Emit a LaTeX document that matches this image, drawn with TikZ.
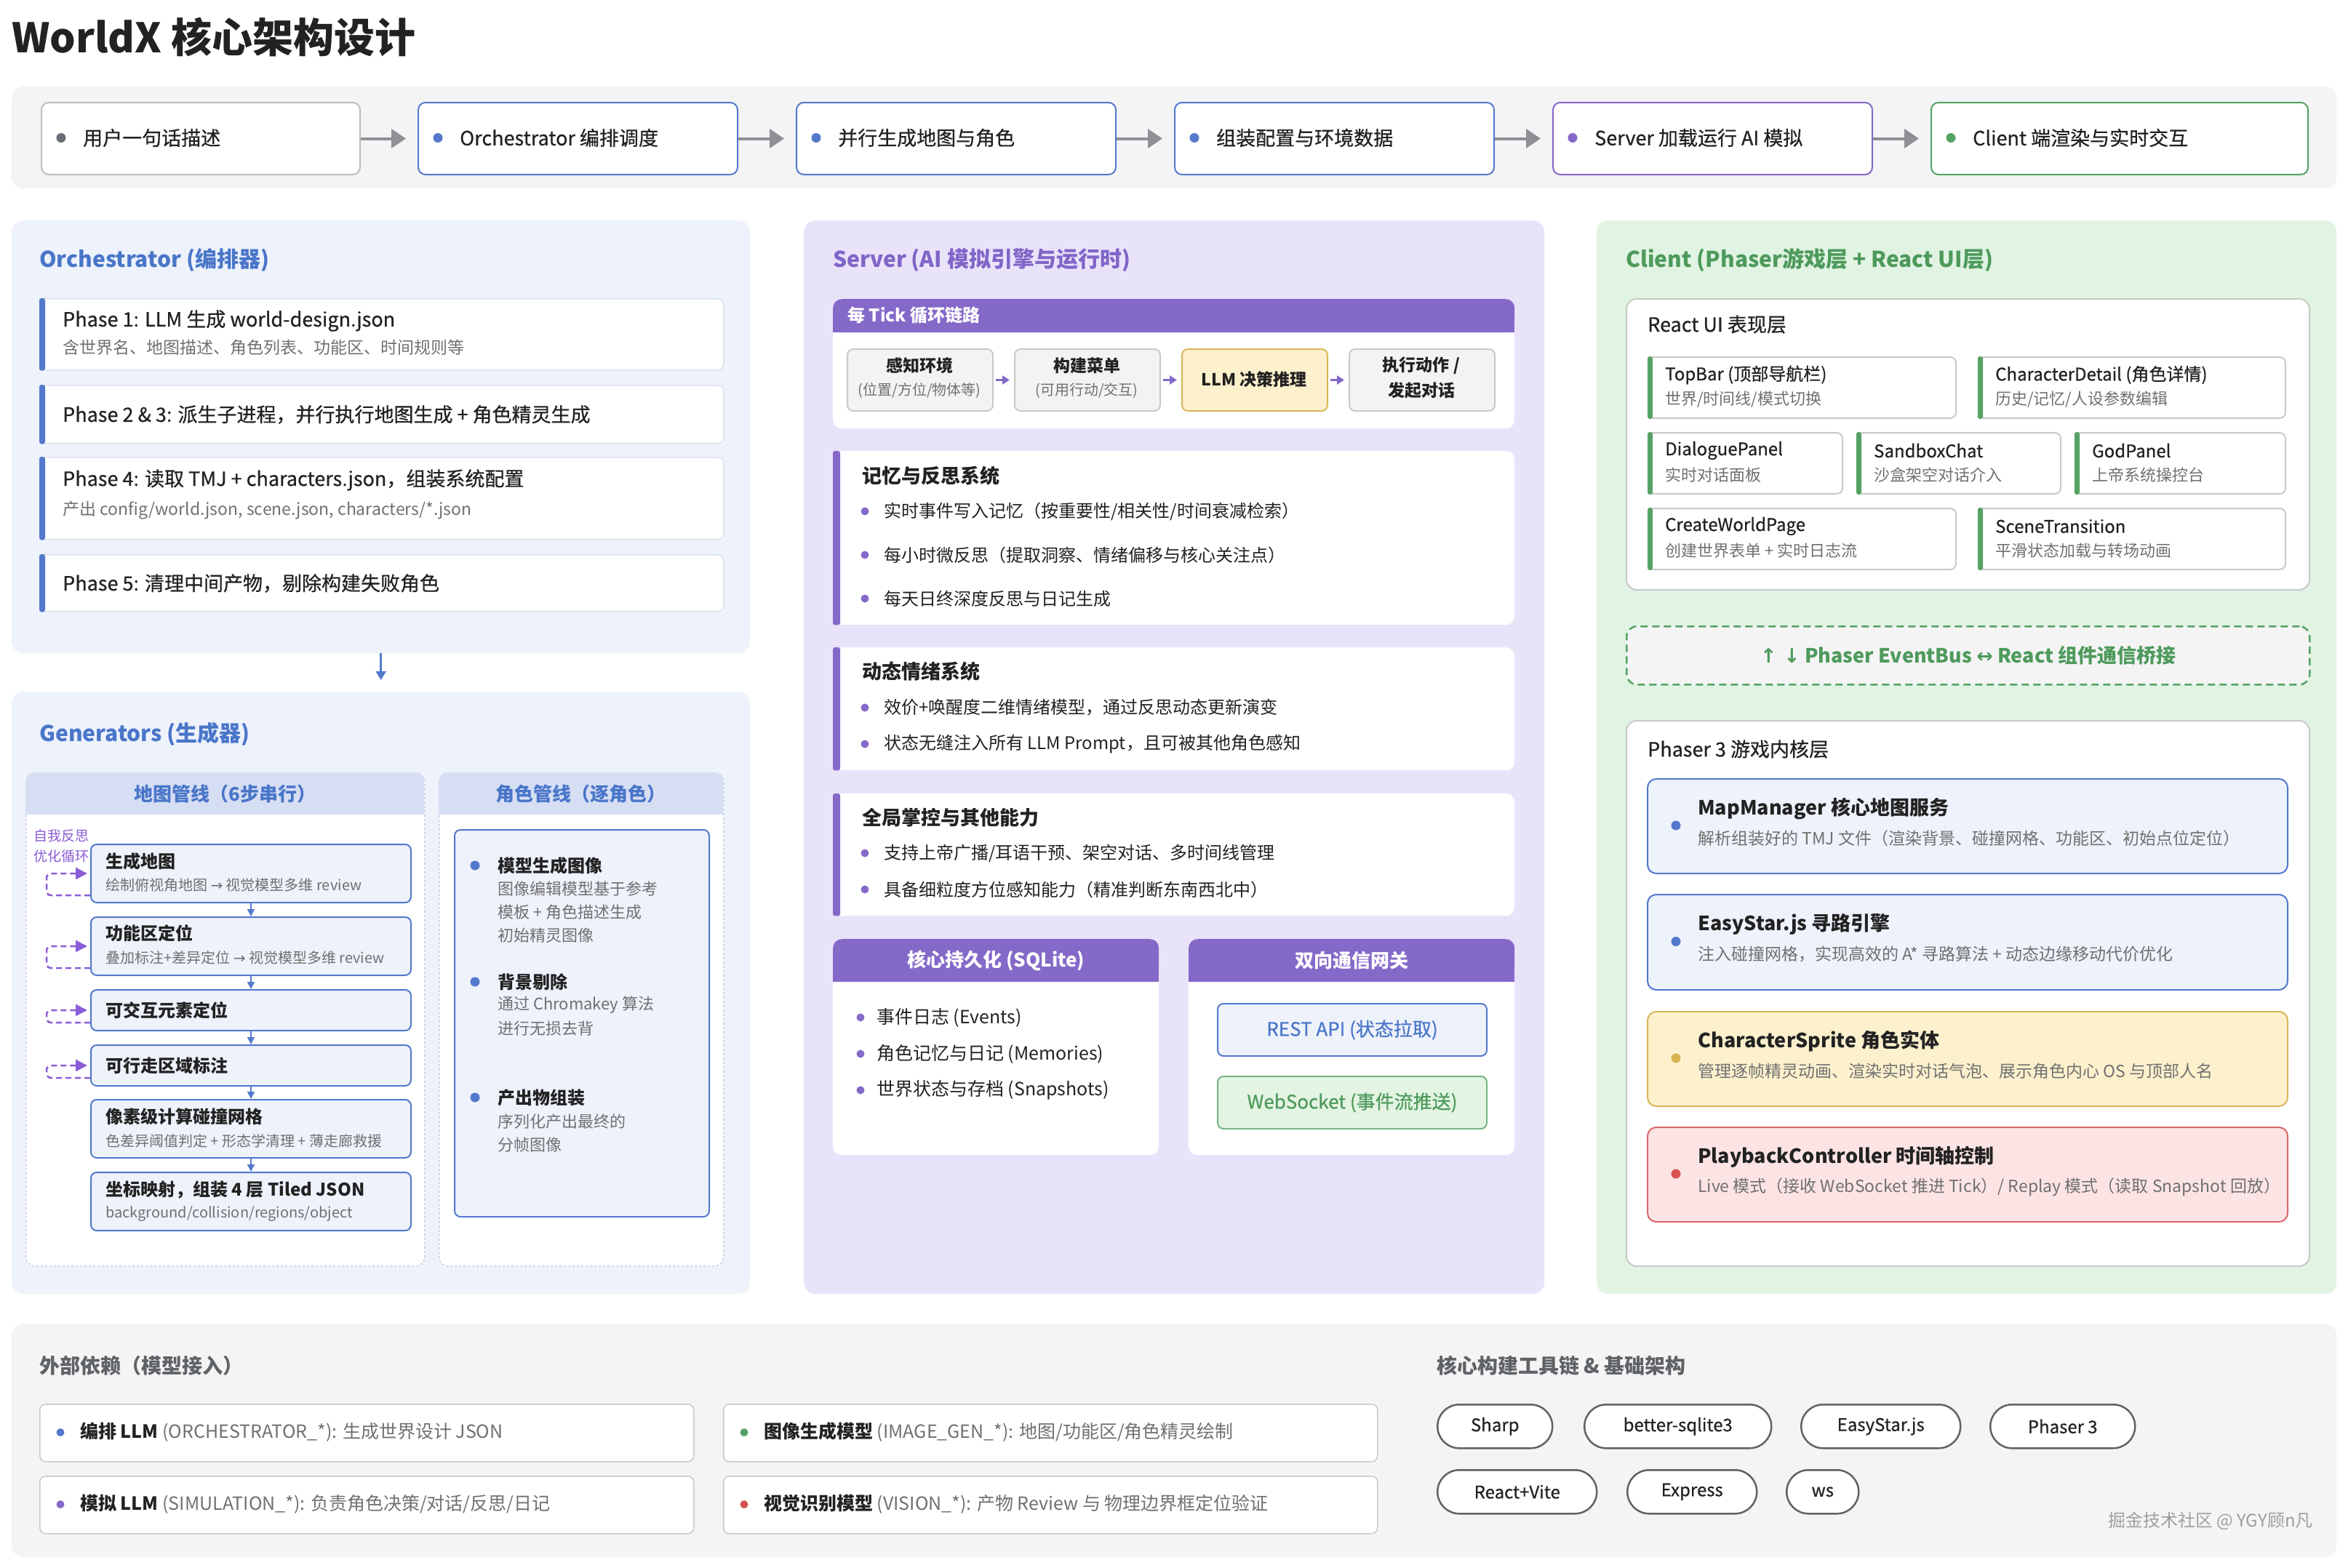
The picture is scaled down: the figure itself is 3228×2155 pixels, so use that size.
\documentclass[tikz,border=0pt]{standalone}
\usepackage{fontspec}
\setmainfont{Noto Sans CJK SC}
\newfontfamily\medfont{Noto Sans CJK SC}[FakeBold=0.6]
\newfontfamily\arrowfont{DejaVu Sans}
\usetikzlibrary{arrows.meta}
\newcommand\fsz[1]{\fontsize{#1}{#1}\selectfont}
\newcommand\arr[1]{{\arrowfont #1}}
\definecolor{ink}{HTML}{222222}
\definecolor{subgray}{HTML}{707070}
\definecolor{headgray}{HTML}{5F6266}
\definecolor{bandgray}{HTML}{F4F4F5}
\definecolor{lightgray}{HTML}{BDBDBD}
\definecolor{darkdot}{HTML}{6B6E76}
\definecolor{arrowgray}{HTML}{8E9096}
\definecolor{blueT}{HTML}{4A76C9}
\definecolor{blueL}{HTML}{5479CC}
\definecolor{blueBg}{HTML}{EEF2FB}
\definecolor{blueHd}{HTML}{D6DEF4}
\definecolor{blueDash}{HTML}{C5CFE6}
\definecolor{purpleT}{HTML}{8165C7}
\definecolor{purpleL}{HTML}{8569C9}
\definecolor{purpleBg}{HTML}{E9E3FA}
\definecolor{loopC}{HTML}{8A5CD6}
\definecolor{greenT}{HTML}{4E9A5C}
\definecolor{greenL}{HTML}{56A264}
\definecolor{greenBg}{HTML}{E1F4E4}
\definecolor{greenBox}{HTML}{E3F4E3}
\definecolor{cardline}{HTML}{DCE1EC}
\definecolor{grayline}{HTML}{C9C9C9}
\definecolor{pillline}{HTML}{626262}
\definecolor{tickgray}{HTML}{F3F3F3}
\definecolor{yellowBg}{HTML}{FDF1CD}
\definecolor{yellowL}{HTML}{D8B65A}
\definecolor{yellowDot}{HTML}{D7B552}
\definecolor{pinkBg}{HTML}{FDE4E4}
\definecolor{redL}{HTML}{D9686B}
\definecolor{redDot}{HTML}{D65352}
\tikzset{wh/.style 2 args={minimum width=#1pt, minimum height=#2pt}}
\tikzstyle{panel}=[rounded corners=16pt, inner sep=0, anchor=north west]
\tikzstyle{flowbox}=[draw, fill=white, rounded corners=10pt, line width=2pt, inner sep=0, anchor=north west]
\tikzstyle{card}=[draw=cardline, fill=white, rounded corners=8pt, line width=1.5pt, inner sep=0, anchor=north west]
\tikzstyle{whitebox}=[fill=white, rounded corners=12pt, inner sep=0, anchor=north west]
\tikzstyle{purplehd}=[fill=purpleL, rounded corners=12pt, inner sep=0, anchor=north west, text=white, font=\fsz{26}\bfseries]
\tikzstyle{tickbox}=[draw, line width=2pt, rounded corners=8pt, inner sep=0, anchor=north west]
\tikzstyle{col}=[draw=blueDash, dashed, fill=white, line width=1.5pt, rounded corners=12pt, inner sep=0, anchor=north west]
\tikzstyle{colhd}=[fill=blueHd, rounded corners=12pt, inner sep=0, anchor=north west, text=blueT, font=\fsz{26}\bfseries]
\tikzstyle{mapstep}=[draw=blueL, fill=blueBg, line width=2pt, rounded corners=8pt, inner sep=0, anchor=north west]
\tikzstyle{graybox}=[draw=grayline, fill=white, line width=2pt, rounded corners=14pt, inner sep=0, anchor=north west]
\tikzstyle{uicard}=[draw=grayline, fill=white, line width=2pt, rounded corners=8pt, inner sep=0, anchor=north west]
\tikzstyle{svc}=[line width=2pt, rounded corners=12pt, inner sep=0, anchor=north west]
\tikzstyle{busbox}=[draw=greenL, dash pattern=on 10pt off 6pt, fill=bandgray, line width=2.5pt, rounded corners=14pt, inner sep=0, anchor=north west, text=greenT, font=\fsz{27}\bfseries]
\tikzstyle{gatebox}=[line width=2pt, rounded corners=8pt, inner sep=0, font=\fsz{26}\medfont]
\tikzstyle{depcard}=[draw=grayline, fill=white, line width=1.5pt, rounded corners=8pt, inner sep=0, anchor=north west]
\tikzstyle{pill}=[draw=pillline, fill=white, line width=2.5pt, rounded corners=30pt, inner sep=0, anchor=north west, text=ink, font=\fsz{24}\medfont]
\tikzstyle{dot}=[circle, inner sep=0, minimum size=13pt]
\tikzstyle{sdot}=[circle, inner sep=0, minimum size=11pt]
\tikzstyle{lbl}=[anchor=west, inner sep=0, text=ink]
\tikzstyle{sub}=[anchor=west, inner sep=0, text=subgray]
\tikzstyle{ctr}=[anchor=center, inner sep=0, text=ink]
\tikzstyle{flowarrow}=[draw=arrowgray, line width=4pt, -{Triangle[length=20pt,width=26pt]}, shorten >=16pt]
\tikzstyle{orcharrow}=[draw=blueL, line width=2.5pt, -{Triangle[length=12pt,width=14pt]}, shorten >=16pt]
\tikzstyle{steparrow}=[draw=blueL, line width=2pt, -{Triangle[length=10pt,width=10pt]}]
\tikzstyle{tickarrow}=[draw=purpleL, line width=2.5pt, -{Triangle[length=10pt,width=12pt]}, shorten <=3pt, shorten >=6pt]
\tikzstyle{loopline}=[draw=loopC, line width=2.5pt, dash pattern=on 8pt off 5pt, rounded corners=6pt, -{Triangle[length=16pt,width=16pt]}]

\begin{document}
\begin{tikzpicture}[x=1pt, y=-1pt]
\useasboundingbox (0,0) rectangle (3228,2155);
\fill[white] (0,0) rectangle (3228,2155);
\node at (16,51)[lbl, font=\fsz{56}\bfseries](title){WorldX 核心架构设计};

\node at (16,119)[panel, fill=bandgray, wh={3196}{140}](flow){};
\foreach \i/\x/\w/\c/\d/\t in {1/56/438/lightgray/darkdot/用户一句话描述,
  2/574/439/blueL/blueL/Orchestrator 编排调度, 3/1094/439/blueL/blueL/并行生成地图与角色,
  4/1614/439/blueL/blueL/组装配置与环境数据, 5/2134/439/purpleL/purpleL/Server 加载运行 AI 模拟,
  6/2654/518/greenL/greenL/Client 端渲染与实时交互}{
\node at (\x,140)[flowbox, draw=\c, wh={\w}{99}](f\i){};
\node at (\x+28,189.5)[dot, fill=\d](fd\i){};
\node at (\x+58,189.5)[lbl, font=\fsz{27}\medfont](ft\i){\t};
}
\foreach \i/\j in {1/2,2/3,3/4,4/5,5/6} {\draw[flowarrow] (f\i.east) -- (f\j.west);}

\node at (16,303)[panel, fill=blueBg, wh={1015}{595}](orch){};
\node at (54,358)[lbl, text=blueT, font=\fsz{30}\bfseries](orchT){Orchestrator (编排器)};
\foreach \i/\y/\h in {1/410/98, 23/529/80, 4/628/113, 5/762/78}{
\node at (54,\y)[card, wh={940}{\h}](ph\i){};
\fill[blueL, rounded corners=3pt] (ph\i.north west) rectangle ([xshift=8pt]ph\i.south west);
}
\node at (86,441)[lbl, font=\fsz{27}\medfont](ph1a){Phase 1: LLM 生成 world-design.json};
\node at (86,478)[sub, font=\fsz{23}](ph1b){含世界名、地图描述、角色列表、功能区、时间规则等};
\node at (86,570)[lbl, font=\fsz{27}\medfont](ph23a){Phase 2 \& 3: 派生子进程，并行执行地图生成 + 角色精灵生成};
\node at (86,660)[lbl, font=\fsz{27}\medfont](ph4a){Phase 4: 读取 TMJ + characters.json，组装系统配置};
\node at (86,702)[sub, font=\fsz{23}](ph4b){产出 config/world.json, scene.json, characters/*.json};
\node at (86,802)[lbl, font=\fsz{27}\medfont](ph5a){Phase 5: 清理中间产物，剔除构建失败角色};

\node at (16,951)[panel, fill=blueBg, wh={1015}{828}](gen){};
\draw[orcharrow] (orch.south) -- (gen.north);
\node at (54,1009)[lbl, text=blueT, font=\fsz{30}\bfseries](genT){Generators (生成器)};
\node at (35,1062)[col, wh={548}{678}](mapcol){};
\node at (603,1062)[col, wh={391}{678}](chrcol){};
\node at (35,1062)[colhd, wh={548}{58}](maphd){地图管线（6步串行）};
\node at (603,1062)[colhd, wh={391}{58}](chrhd){角色管线（逐角色）};
\fill[blueHd] ([yshift=12pt]maphd.south west) rectangle (maphd.south east);
\fill[blueHd] ([yshift=12pt]chrhd.south west) rectangle (chrhd.south east);

\node at (84,1149)[ctr, text=loopC, font=\fsz{19}](selfa){自我反思};
\node at (84,1177)[ctr, text=loopC, font=\fsz{19}](selfb){优化循环};
\foreach \i/\y/\h in {1/1160/80, 2/1260/80, 3/1360/56, 4/1436/56, 5/1511/80, 6/1611/80}
{\node at (124,\y)[mapstep, wh={440}{\h}](s\i){};}
\foreach \i/\j in {1/2,2/3,3/4,4/5,5/6} {\draw[steparrow] (s\i.south) -- (s\j.north);}
\foreach \i/\d in {1/30, 2/30, 3/17, 4/17}
{\draw[loopline] (s\i.west) ++(0,\d) -- ++(-60,0) -- ++(0,-\d) -- ([xshift=-4pt]s\i.west);}
\node at (145,1184)[lbl, font=\fsz{24}\bfseries](s1a){生成地图};
\node at (145,1217)[sub, font=\fsz{20}](s1b){绘制俯视角地图 \arr{→} 视觉模型多维 review};
\node at (145,1283)[lbl, font=\fsz{24}\bfseries](s2a){功能区定位};
\node at (145,1317)[sub, font=\fsz{20}](s2b){叠加标注+差异定位 \arr{→} 视觉模型多维 review};
\node at (145,1389)[lbl, font=\fsz{24}\bfseries](s3a){可交互元素定位};
\node at (145,1465)[lbl, font=\fsz{24}\bfseries](s4a){可行走区域标注};
\node at (145,1535)[lbl, font=\fsz{24}\bfseries](s5a){像素级计算碰撞网格};
\node at (145,1569)[sub, font=\fsz{20}](s5b){色差异阈值判定 + 形态学清理 + 薄走廊救援};
\node at (145,1636)[lbl, font=\fsz{24}\bfseries](s6a){坐标映射，组装 4 层 Tiled JSON};
\node at (145,1669)[sub, font=\fsz{20}](s6b){background/collision/regions/object};

\node at (624,1140)[mapstep, wh={350}{532}](chr){};
\foreach \i/\y in {1/1190, 2/1350, 3/1509} {\node at (653,\y)[dot, fill=blueL](cd\i){};}
\node at (684,1190)[lbl, font=\fsz{24}\bfseries](c1a){模型生成图像};
\node at (684,1222)[sub, font=\fsz{22}](c1b){图像编辑模型基于参考};
\node at (684,1254)[sub, font=\fsz{22}](c1c){模板 + 角色描述生成};
\node at (684,1286)[sub, font=\fsz{22}](c1d){初始精灵图像};
\node at (684,1350)[lbl, font=\fsz{24}\bfseries](c2a){背景剔除};
\node at (684,1382)[sub, font=\fsz{22}](c2b){通过 Chromakey 算法};
\node at (684,1414)[sub, font=\fsz{22}](c2c){进行无损去背};
\node at (684,1509)[lbl, font=\fsz{24}\bfseries](c3a){产出物组装};
\node at (684,1542)[sub, font=\fsz{22}](c3b){序列化产出最终的};
\node at (684,1574)[sub, font=\fsz{22}](c3c){分帧图像};

\node at (1105,303)[panel, fill=purpleBg, wh={1018}{1476}](srv){};
\node at (1145,358)[lbl, text=purpleT, font=\fsz{30}\bfseries](srvT){Server (AI 模拟引擎与运行时)};
\node at (1145,411)[whitebox, wh={937}{178}](tick){};
\node at (1145,411)[purplehd, wh={937}{46}](tickhd){};
\fill[purpleL] ([yshift=12pt]tickhd.south west) rectangle (tickhd.south east);
\node at (1165,434)[lbl, text=white, font=\fsz{24}\bfseries](tickT){每 Tick 循环链路};
\foreach \i/\x/\f/\c in {1/1164/tickgray/grayline, 2/1394/tickgray/grayline, 3/1624/yellowBg/yellowL, 4/1854/tickgray/grayline}
{\node at (\x,479)[tickbox, fill=\f, draw=\c, wh={200}{85}](tk\i){};}
\foreach \i/\j in {1/2,2/3,3/4} {\draw[tickarrow] (tk\i.east) -- (tk\j.west);}
\node at (1264,503)[ctr, font=\fsz{23}\bfseries](tk1a){感知环境};
\node at (1264,537)[ctr, text=subgray, font=\fsz{20}](tk1b){(位置/方位/物体等)};
\node at (1494,503)[ctr, font=\fsz{23}\bfseries](tk2a){构建菜单};
\node at (1494,537)[ctr, text=subgray, font=\fsz{20}](tk2b){(可用行动/交互)};
\node at (1724,521.5)[ctr, font=\fsz{23}\bfseries](tk3a){LLM 决策推理};
\node at (1954,503)[ctr, font=\fsz{23}\bfseries](tk4a){执行动作 /};
\node at (1954,537)[ctr, font=\fsz{23}\bfseries](tk4b){发起对话};

\foreach \n/\y/\h in {mem/620/239, emo/890/169, ctl/1091/168}
{\node at (1145,\y)[whitebox, wh={937}{\h}](\n){};
\fill[purpleL, rounded corners=3pt] (\n.north west) rectangle ([xshift=10pt]\n.south west);}
\foreach \y in {703,763,823,973,1023,1173,1223} {\node at (1189,\y)[sdot, fill=purpleL](b\y){};}
\node at (1185,654)[lbl, font=\fsz{27}\bfseries](memT){记忆与反思系统};
\node at (1215,703)[lbl, font=\fsz{24}](mem1){实时事件写入记忆（按重要性/相关性/时间衰减检索）};
\node at (1215,763)[lbl, font=\fsz{24}](mem2){每小时微反思（提取洞察、情绪偏移与核心关注点）};
\node at (1215,823)[lbl, font=\fsz{24}](mem3){每天日终深度反思与日记生成};
\node at (1185,923)[lbl, font=\fsz{27}\bfseries](emoT){动态情绪系统};
\node at (1215,973)[lbl, font=\fsz{24}](emo1){效价+唤醒度二维情绪模型，通过反思动态更新演变};
\node at (1215,1023)[lbl, font=\fsz{24}](emo2){状态无缝注入所有 LLM Prompt，且可被其他角色感知};
\node at (1185,1124)[lbl, font=\fsz{27}\bfseries](ctlT){全局掌控与其他能力};
\node at (1215,1173)[lbl, font=\fsz{24}](ctl1){支持上帝广播/耳语干预、架空对话、多时间线管理};
\node at (1215,1223)[lbl, font=\fsz{24}](ctl2){具备细粒度方位感知能力（精准判断东南西北中）};

\node at (1145,1291)[whitebox, wh={448}{297}](sql){};
\node at (1145,1291)[purplehd, wh={448}{59}](sqlhd){核心持久化 (SQLite)};
\fill[purpleL] ([yshift=12pt]sqlhd.south west) rectangle (sqlhd.south east);
\foreach \y in {1399,1449,1499} {\node at (1183,\y)[sdot, fill=purpleL](q\y){};}
\node at (1205,1399)[lbl, font=\fsz{25}](sql1){事件日志 (Events)};
\node at (1205,1449)[lbl, font=\fsz{25}](sql2){角色记忆与日记 (Memories)};
\node at (1205,1499)[lbl, font=\fsz{25}](sql3){世界状态与存档 (Snapshots)};
\node at (1634,1291)[whitebox, wh={448}{297}](gw){};
\node at (1634,1291)[purplehd, wh={448}{59}](gwhd){双向通信网关};
\fill[purpleL] ([yshift=12pt]gwhd.south west) rectangle (gwhd.south east);
\node at (1859,1416)[gatebox, draw=blueL, fill=blueBg, text=blueT, wh={370}{72}](rest){REST API (状态拉取)};
\node at (1859,1516)[gatebox, draw=greenL!80, fill=greenBox, text=greenT, wh={370}{72}](wsock){WebSocket (事件流推送)};

\node at (2195,303)[panel, fill=greenBg, wh={1017}{1476}](cli){};
\node at (2235,358)[lbl, text=greenT, font=\fsz{30}\bfseries](cliT){Client (Phaser游戏层 + React UI层)};
\node at (2235,410)[graybox, wh={939}{400}](ui){};
\node at (2265,446)[lbl, font=\fsz{27}\medfont](uiT){React UI 表现层};
\node at (2265,490)[uicard, wh={423}{84}](topbar){};
\node at (2719,490)[uicard, wh={422}{84}](chardet){};
\node at (2265,594)[uicard, wh={267}{84}](dialog){};
\node at (2552,594)[uicard, wh={280}{84}](sandbox){};
\node at (2852,594)[uicard, wh={289}{84}](god){};
\node at (2265,698)[uicard, wh={423}{84}](create){};
\node at (2719,698)[uicard, wh={422}{84}](scene){};
\foreach \n in {topbar,chardet,dialog,sandbox,god,create,scene}
{\fill[greenL, rounded corners=3pt] (\n.north west) rectangle ([xshift=7pt]\n.south west);}
\node at (2289,515.5)[lbl, font=\fsz{24}\medfont](topbarA){TopBar (顶部导航栏)};
\node at (2289,549)[sub, font=\fsz{22}](topbarB){世界/时间线/模式切换};
\node at (2743,515.5)[lbl, font=\fsz{24}\medfont](chardetA){CharacterDetail (角色详情)};
\node at (2743,549)[sub, font=\fsz{22}](chardetB){历史/记忆/人设参数编辑};
\node at (2289,619.5)[lbl, font=\fsz{24}\medfont](dialogA){DialoguePanel};
\node at (2289,653)[sub, font=\fsz{22}](dialogB){实时对话面板};
\node at (2576,619.5)[lbl, font=\fsz{24}\medfont](sandboxA){SandboxChat};
\node at (2576,653)[sub, font=\fsz{22}](sandboxB){沙盒架空对话介入};
\node at (2876,619.5)[lbl, font=\fsz{24}\medfont](godA){GodPanel};
\node at (2876,653)[sub, font=\fsz{22}](godB){上帝系统操控台};
\node at (2289,723.5)[lbl, font=\fsz{24}\medfont](createA){CreateWorldPage};
\node at (2289,757)[sub, font=\fsz{22}](createB){创建世界表单 + 实时日志流};
\node at (2743,723.5)[lbl, font=\fsz{24}\medfont](sceneA){SceneTransition};
\node at (2743,757)[sub, font=\fsz{22}](sceneB){平滑状态加载与转场动画};
\node at (2235,860)[busbox, wh={939}{80}](bus){\arr{↑ ↓} Phaser EventBus \arr{↔} React 组件通信桥接};

\node at (2235,990)[graybox, wh={939}{750}](core){};
\node at (2265,1030)[lbl, font=\fsz{27}\medfont](coreT){Phaser 3 游戏内核层};
\node at (2264,1070)[svc, draw=blueL, fill=blueBg, wh={880}{130}](mapm){};
\node at (2264,1229)[svc, draw=blueL, fill=blueBg, wh={880}{131}](star){};
\node at (2264,1390)[svc, draw=yellowL, fill=yellowBg, wh={880}{130}](sprite){};
\node at (2264,1549)[svc, draw=redL, fill=pinkBg, wh={880}{130}](play){};
\node at (2304,1135)[dot, fill=blueL](mapmD){};
\node at (2304,1294.5)[dot, fill=blueL](starD){};
\node at (2304,1455)[dot, fill=yellowDot](spriteD){};
\node at (2304,1614)[dot, fill=redDot](playD){};
\node at (2334,1112)[lbl, font=\fsz{27}\bfseries](mapmA){MapManager 核心地图服务};
\node at (2334,1153)[sub, font=\fsz{23}](mapmB){解析组装好的 TMJ 文件（渲染背景、碰撞网格、功能区、初始点位定位）};
\node at (2334,1271)[lbl, font=\fsz{27}\bfseries](starA){EasyStar.js 寻路引擎};
\node at (2334,1312)[sub, font=\fsz{23}](starB){注入碰撞网格，实现高效的 A* 寻路算法 + 动态边缘移动代价优化};
\node at (2334,1432)[lbl, font=\fsz{27}\bfseries](spriteA){CharacterSprite 角色实体};
\node at (2334,1473)[sub, font=\fsz{23}](spriteB){管理逐帧精灵动画、渲染实时对话气泡、展示角色内心 OS 与顶部人名};
\node at (2334,1591)[lbl, font=\fsz{27}\bfseries](playA){PlaybackController 时间轴控制};
\node at (2334,1632)[sub, font=\fsz{23}](playB){Live 模式（接收 WebSocket 推进 Tick）/ Replay 模式（读取 Snapshot 回放）};

\node at (16,1820)[panel, fill=bandgray, wh={3196}{321}](deps){};
\node at (54,1878)[lbl, text=headgray, font=\fsz{28}\bfseries](depT){外部依赖（模型接入）};
\node at (54,1930)[depcard, wh={899}{79}](dep1){};
\node at (994,1930)[depcard, wh={899}{79}](dep2){};
\node at (54,2029)[depcard, wh={899}{79}](dep3){};
\node at (994,2029)[depcard, wh={899}{79}](dep4){};
\node at (83,1969.5)[sdot, fill=blueL](dep1D){};
\node at (1023,1969.5)[sdot, fill=greenL](dep2D){};
\node at (83,2068.5)[sdot, fill=purpleL](dep3D){};
\node at (1023,2068.5)[sdot, fill=redDot](dep4D){};
\node at (110,1969.5)[sub, font=\fsz{25}](dep1T){{\color{ink}\bfseries 编排 LLM} (ORCHESTRATOR\_*): 生成世界设计 JSON};
\node at (1050,1969.5)[sub, font=\fsz{25}](dep2T){{\color{ink}\bfseries 图像生成模型} (IMAGE\_GEN\_*): 地图/功能区/角色精灵绘制};
\node at (110,2068.5)[sub, font=\fsz{25}](dep3T){{\color{ink}\bfseries 模拟 LLM} (SIMULATION\_*): 负责角色决策/对话/反思/日记};
\node at (1050,2068.5)[sub, font=\fsz{25}](dep4T){{\color{ink}\bfseries 视觉识别模型} (VISION\_*): 产物 Review 与 物理边界框定位验证};

\node at (1975,1878)[lbl, text=headgray, font=\fsz{28}\bfseries](toolT){核心构建工具链 \& 基础架构};
\foreach \n/\x/\y/\w/\t in {tSharp/1975/1930/158/Sharp, tSqlite/2177/1930/257/better-sqlite3,
  tStar/2475/1930/219/EasyStar.js, tPhaser/2735/1930/199/Phaser 3, tReact/1975/2020/219/React+Vite,
  tExpress/2236/2020/178/Express, tWs/2455/2020/99/ws}
{\node at (\x,\y)[pill, wh={\w}{60}](\n){\t};}
\node at (3180,2091)[anchor=east, inner sep=0, text=gray!75, font=\fsz{24}](mark){掘金技术社区 @ YGY顾n凡};
\end{tikzpicture}
\end{document}
